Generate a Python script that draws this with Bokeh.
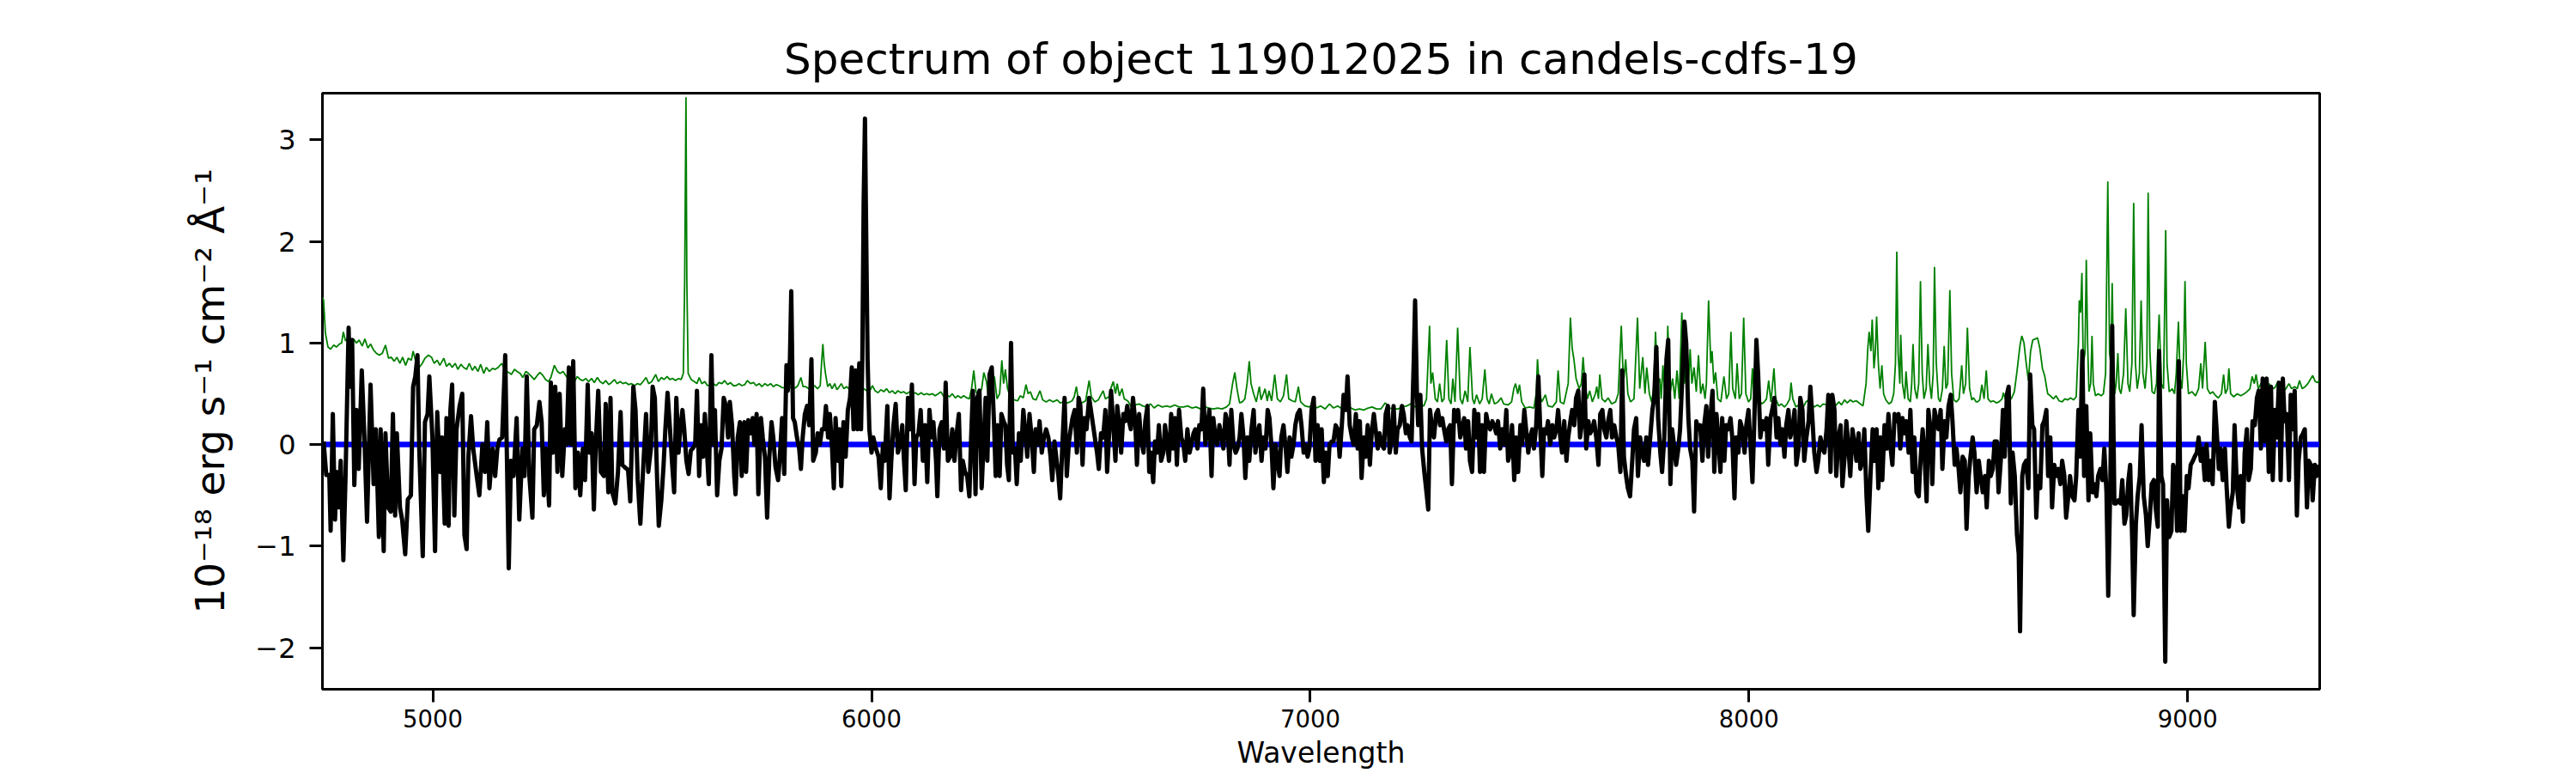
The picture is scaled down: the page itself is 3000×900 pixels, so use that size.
from bokeh.plotting import figure
from bokeh.models import Range1d, FixedTicker, CustomJSTickFormatter, ColumnDataSource
from bokeh.embed import file_html
from bokeh.resources import INLINE

TITLE = "Spectrum of object 119012025 in candels-cdfs-19"
X_LABEL = "Wavelength"
Y_LABEL = "10\u207b\u00b9\u2078 erg s\u207b\u00b9 cm\u207b\u00b2 \u00c5\u207b\u00b9"
X_TICKS = [5000, 6000, 7000, 8000, 9000]
Y_TICKS = [-2, -1, 0, 1, 2, 3]

flux_a = [(4751,0.03),(4757,-0.3),(4764,-0.3),(4767,-0.85),(4772,0.3),(4777,-0.74),(4781,-0.27),(4785,-0.62),(4790,-0.16),(4796,-1.14),(4801,-0.31),(4808,1.15),(4811,0.57),(4816,1.03),(4821,-0.4),(4826,0.34),(4831,-0.24),(4838,0.73),(4844,0.07),(4850,-0.76),(4858,0.59),(4865,-0.39),(4870,0.15),(4877,-0.91),(4881,0.15),(4888,-1.05),(4892,0.11),(4898,-0.62),(4904,-0.66),(4909,0.3),(4914,-0.7),(4918,0.11),(4925,-0.62),(4930,-0.74),(4937,-1.08),(4943,-0.54),(4950,-0.5),(4955,0.57),(4960,0.67),(4965,0.88),(4969,-0.04),(4977,-1.1),(4982,0.22),(4988,0.3),(4992,0.67),(4999,0.07),(5005,-1.05),(5010,0.32),(5016,-0.27),(5021,0.07),(5027,-0.78),(5031,0.26),(5036,-0.8),(5040,0.34),(5044,0.59),(5049,-0.7),(5054,0.15),(5061,0.38),(5067,0.5),(5072,-0.89),(5077,-1.03),(5081,-0.12),(5087,0.28),(5092,-0.04),(5100,-0.31),(5106,-0.5),(5113,0.0),(5119,-0.27),(5124,0.22),(5129,-0.43),(5136,-0.04),(5142,-0.31),(5147,-0.04),(5152,0.05),(5158,0.07),(5165,0.88),(5173,-1.22),(5178,-0.16),(5184,-0.31),(5191,0.26),(5197,-0.74),(5204,-0.04),(5209,-0.31),(5214,0.67),(5220,-0.31),(5227,-0.72),(5231,0.15),(5237,0.19),(5243,0.42),(5248,0.22),(5253,-0.5),(5258,-0.04),(5265,-0.6),(5269,0.61),(5274,-0.08),(5279,0.57),(5284,-0.27),(5289,0.5),(5295,-0.31),(5301,0.15),(5305,0.0),(5310,0.76),(5315,0.0),(5320,0.82),(5325,-0.43),(5331,-0.08),(5336,-0.5),(5342,-0.04),(5347,-0.35),(5353,0.59),(5357,-0.08),(5362,0.11),(5367,-0.64),(5372,0.07),(5377,0.53),(5383,-0.27),(5390,-0.31),(5394,0.4),(5400,-0.47),(5405,0.46),(5409,-0.47),(5416,-0.58),(5422,-0.27),(5428,0.32),(5432,-0.2),(5439,-0.23),(5445,-0.25),(5450,-0.56),(5457,0.57),(5462,0.34),(5467,-0.35),(5473,-0.78),(5479,-0.27),(5486,0.3),(5491,-0.27),(5497,-0.04)]
flux_b = [(5501,0.57),(5506,0.46),(5511,-0.31),(5515,-0.8),(5521,-0.54),(5526,-0.2),(5530,0.15),(5535,0.51),(5540,0.19),(5545,-0.16),(5550,-0.47),(5555,0.46),(5560,-0.08),(5564,0.15),(5569,0.34),(5573,0.15),(5578,-0.16),(5583,-0.29),(5588,-0.06),(5592,-0.04),(5598,0.0),(5602,0.53),(5607,-0.31),(5612,0.19),(5616,-0.12),(5620,0.3),(5625,-0.08),(5629,-0.39),(5635,0.88),(5639,0.0),(5643,0.34),(5648,-0.5),(5653,-0.16),(5658,-0.04),(5663,0.46),(5668,0.38),(5673,0.07),(5677,0.42),(5682,0.19),(5687,-0.31),(5690,-0.49),(5695,0.07),(5700,0.22),(5704,-0.31),(5710,0.22),(5714,-0.27),(5719,0.24),(5724,0.11),(5729,0.26),(5733,0.0),(5738,0.3),(5742,-0.49),(5748,0.26),(5752,0.07),(5757,-0.12),(5762,-0.72),(5767,-0.12),(5772,0.22),(5776,0.07),(5781,-0.22),(5787,-0.35),(5791,-0.12),(5796,0.26),(5801,-0.29),(5806,0.78),(5809,0.53),(5814,0.84),(5817,1.51),(5821,0.26),(5825,0.22),(5830,0.07),(5835,-0.04),(5839,-0.24),(5843,0.07),(5848,0.3),(5853,0.38),(5858,0.19),(5863,0.84),(5867,-0.16),(5873,-0.08),(5877,0.11),(5882,0.0),(5887,0.15),(5892,0.15),(5896,0.38),(5901,0.07),(5905,0.3),(5910,-0.04),(5914,-0.43),(5918,0.26),(5923,-0.16),(5927,0.15),(5931,-0.41),(5936,0.22),(5941,-0.12),(5946,0.34),(5951,0.46),(5955,0.76),(5959,0.15),(5964,0.73),(5968,0.15),(5972,0.8),(5976,0.15),(5979,0.84),(5982,2.38),(5985,3.21),(5987,2.38),(5991,0.84),(5995,0.15),(6000,-0.08),(6004,0.07),(6010,-0.04),(6016,-0.12),(6021,-0.43),(6026,0.0),(6030,-0.16),(6036,0.38),(6041,-0.53),(6045,-0.16),(6050,0.19),(6055,0.4),(6060,-0.08),(6065,0.0),(6070,0.19),(6074,-0.16),(6078,-0.45),(6083,0.46),(6088,0.15),(6092,0.59),(6098,-0.39),(6102,0.07),(6107,0.11),(6112,0.34),(6117,-0.16),(6122,0.19),(6127,-0.37),(6132,0.34),(6137,0.07),(6141,0.22),(6147,-0.16),(6150,-0.51),(6155,0.15),(6160,0.22),(6165,-0.04),(6169,0.61),(6174,-0.16),(6179,-0.12),(6184,0.15),(6189,-0.16),(6193,0.07),(6199,0.3),(6204,-0.45),(6208,-0.16),(6213,-0.27),(6218,-0.31),(6223,-0.51),(6227,0.07),(6231,0.53),(6237,-0.49),(6241,0.46),(6246,0.53),(6251,-0.43)]
flux_c = [(6260,0.46),(6264,-0.16),(6269,0.69),(6274,0.76),(6279,0.23),(6283,-0.31),(6287,0.19),(6292,-0.31),(6296,0.3),(6301,0.23),(6305,0.19),(6309,-0.2),(6313,-0.35),(6318,1.0),(6322,-0.08),(6327,-0.04),(6331,-0.39),(6336,0.11),(6340,-0.16),(6346,0.34),(6350,0.15),(6355,-0.12),(6360,0.3),(6365,0.07),(6370,-0.27),(6374,0.15),(6379,0.0),(6383,0.23),(6388,-0.08),(6393,0.07),(6398,0.15),(6403,0.07),(6408,-0.12),(6412,-0.35),(6417,0.03),(6422,-0.16),(6426,-0.31),(6430,-0.53),(6435,0.0),(6440,0.46),(6445,-0.31),(6450,0.03),(6454,0.15),(6458,0.26),(6463,0.34),(6468,-0.08),(6472,0.46),(6476,0.38),(6481,-0.2),(6485,0.26),(6490,0.15),(6496,0.46),(6500,0.34),(6505,0.19),(6509,0.07),(6514,-0.08),(6518,-0.24),(6523,0.11),(6528,0.07),(6533,0.34),(6537,-0.27),(6542,0.15),(6546,0.53),(6551,0.19),(6556,-0.16),(6560,0.38),(6564,0.23),(6569,-0.08),(6574,0.3),(6578,0.23),(6583,0.38),(6587,0.23),(6591,0.15),(6596,0.46),(6601,0.23),(6605,-0.2),(6610,0.3),(6614,0.07),(6620,-0.08),(6624,0.23),(6629,0.38),(6633,-0.27),(6637,-0.08),(6642,-0.37),(6646,0.03),(6651,-0.08),(6655,0.19),(6660,-0.16),(6665,-0.08),(6669,0.19),(6674,0.0),(6678,-0.16),(6683,0.3),(6687,-0.04),(6692,0.26),(6696,-0.2),(6701,0.34),(6706,0.07),(6711,0.0),(6715,-0.16),(6720,0.15),(6725,-0.08),(6729,0.0),(6734,0.11),(6738,0.15),(6743,-0.04),(6747,0.19),(6752,0.15),(6756,0.55),(6761,0.0),(6766,0.19),(6770,0.34),(6775,-0.31),(6779,0.26),(6784,0.07),(6788,0.0),(6793,0.19),(6798,0.07),(6802,-0.04),(6807,0.3),(6811,0.23),(6816,-0.2),(6820,0.34),(6825,0.0),(6830,-0.08),(6834,-0.04),(6839,0.07),(6843,0.3),(6848,0.07),(6852,-0.33),(6857,0.07),(6861,-0.16),(6866,0.15),(6871,0.34),(6875,-0.08),(6880,0.11),(6884,0.19),(6889,-0.16),(6893,0.07),(6898,-0.04),(6903,0.34),(6907,0.26),(6912,-0.04),(6916,-0.43),(6921,0.0),(6925,-0.16),(6930,-0.31),(6934,0.07),(6939,0.19),(6944,-0.04),(6948,-0.27),(6953,0.07),(6957,-0.12),(6962,0.0),(6966,0.19),(6971,0.3),(6976,0.34),(6980,0.19),(6985,-0.08),(6989,0.0),(6994,-0.12),(6998,-0.04),(7003,0.34),(7008,0.46),(7012,-0.16)]
flux_d = [(7017,0.19),(7021,-0.16),(7026,0.15),(7031,-0.37),(7035,-0.08),(7040,-0.31),(7044,0.0),(7049,0.03),(7053,0.03),(7058,0.19),(7063,0.15),(7067,-0.12),(7072,0.19),(7076,0.49),(7081,0.34),(7085,0.67),(7090,0.19),(7095,0.07),(7099,0.0),(7104,0.3),(7108,-0.04),(7113,0.23),(7117,-0.33),(7122,0.07),(7126,-0.12),(7131,0.19),(7136,-0.2),(7140,0.11),(7145,0.3),(7149,0.15),(7154,-0.04),(7158,0.11),(7163,0.0),(7168,-0.04),(7172,0.3),(7177,0.38),(7181,-0.08),(7186,0.07),(7190,0.38),(7195,-0.08),(7199,0.15),(7204,0.19),(7209,0.38),(7213,0.3),(7218,0.11),(7222,0.19),(7227,0.07),(7231,0.03),(7236,0.84),(7239,1.42),(7243,0.53),(7246,0.19),(7251,0.49),(7255,-0.04),(7260,-0.27),(7265,-0.47),(7269,-0.64),(7273,0.34),(7278,0.15),(7282,0.07),(7287,0.3),(7291,0.34),(7296,0.19),(7301,0.26),(7305,0.15),(7310,0.03),(7314,0.15),(7319,0.19),(7323,-0.39),(7328,0.34),(7333,0.23),(7337,0.34),(7342,0.07),(7346,0.15),(7351,0.26),(7355,-0.04),(7360,0.23),(7364,-0.16),(7369,-0.27),(7374,0.34),(7378,0.07),(7383,0.3),(7387,-0.27),(7392,0.19),(7396,-0.27),(7401,0.3),(7406,0.19),(7410,0.15),(7415,0.23),(7419,0.19),(7424,0.11),(7428,0.23),(7433,-0.04),(7437,0.15),(7442,0.0),(7447,0.34),(7451,-0.16),(7456,-0.08),(7460,0.19),(7465,-0.35),(7469,0.07),(7474,-0.27),(7479,0.19),(7483,0.0),(7488,0.34),(7492,0.15),(7497,-0.08),(7501,0.07),(7506,0.15),(7510,-0.04),(7515,0.19),(7520,0.67),(7524,0.19),(7529,-0.31),(7533,0.15),(7538,0.11),(7542,0.23),(7547,0.0),(7552,0.19),(7556,0.07),(7561,0.15),(7565,0.34),(7570,0.07),(7574,-0.08),(7579,0.23),(7584,-0.16),(7588,0.07),(7593,0.23),(7597,0.34),(7602,0.19),(7606,0.46),(7611,0.53),(7615,0.07),(7620,0.23),(7625,0.69),(7629,-0.04),(7634,0.23),(7638,0.11),(7643,0.15),(7647,0.23),(7652,0.07),(7657,-0.2),(7661,0.3),(7666,0.34),(7670,0.15),(7675,0.07),(7679,0.23),(7684,0.34),(7688,0.07),(7693,0.19),(7698,0.07),(7702,0.0),(7707,-0.27),(7711,0.73),(7715,-0.12),(7720,-0.31),(7724,-0.43),(7729,-0.51),(7734,-0.16),(7738,0.15),(7743,0.26),(7747,-0.31),(7752,0.07),(7756,-0.08),(7761,-0.16)]
flux_e = [(7766,0.07),(7770,-0.2),(7775,0.07),(7780,0.34),(7784,0.46),(7789,0.96),(7793,0.26),(7798,-0.08),(7802,-0.27),(7807,0.07),(7812,0.84),(7816,1.03),(7821,-0.39),(7825,0.15),(7830,-0.04),(7834,-0.2),(7839,-0.04),(7843,0.15),(7848,0.65),(7853,1.21),(7857,1.0),(7862,0.26),(7866,-0.04),(7871,-0.16),(7875,-0.66),(7880,0.23),(7884,0.15),(7889,0.19),(7894,-0.16),(7898,0.19),(7903,0.38),(7907,-0.12),(7912,0.26),(7917,0.53),(7921,-0.27),(7926,0.3),(7930,0.07),(7935,-0.27),(7939,0.26),(7944,-0.16),(7948,0.19),(7953,0.15),(7958,0.26),(7962,0.07),(7967,-0.53),(7971,0.07),(7976,-0.08),(7980,0.23),(7985,0.15),(7990,-0.08),(7994,0.19),(7999,0.34),(8003,0.03),(8008,-0.37),(8012,0.19),(8017,1.03),(8021,0.69),(8026,0.07),(8031,0.23),(8035,0.15),(8040,0.26),(8044,-0.2),(8049,0.26),(8053,0.34),(8058,0.46),(8063,0.07),(8067,0.26),(8072,0.0),(8076,0.15),(8081,-0.12),(8085,0.19),(8090,0.34),(8094,0.07),(8099,0.15),(8104,0.34),(8108,-0.2),(8113,-0.04),(8117,0.46),(8122,0.34),(8126,-0.16),(8131,0.07),(8136,0.23),(8140,0.57),(8145,0.23),(8149,-0.08),(8154,-0.27),(8158,-0.16),(8163,0.07),(8168,-0.04),(8172,-0.08),(8177,0.15),(8181,0.49),(8186,-0.27),(8190,0.49),(8195,0.34),(8199,-0.31),(8204,0.07),(8209,0.19),(8213,-0.41),(8218,-0.12),(8222,0.23),(8227,-0.04),(8231,-0.31),(8236,0.15),(8241,0.0),(8245,-0.16),(8250,0.11),(8254,-0.24),(8259,-0.16),(8263,0.15),(8268,-0.51),(8272,-0.85),(8277,-0.31),(8282,0.15),(8286,-0.16),(8291,0.15),(8295,-0.43),(8300,0.07),(8304,-0.35),(8309,0.19),(8314,-0.04),(8318,0.3),(8323,-0.04),(8327,-0.2),(8332,0.3),(8336,0.23),(8341,0.3),(8345,-0.04),(8350,0.26),(8355,0.11),(8359,0.23),(8364,-0.08),(8368,0.34),(8373,-0.27),(8377,0.07),(8382,-0.47),(8387,-0.51),(8391,-0.16),(8396,0.15),(8400,-0.08),(8405,-0.56),(8409,0.34),(8414,0.15),(8418,-0.39),(8423,0.34),(8428,0.23),(8432,0.15),(8437,0.34),(8441,-0.24),(8446,0.23),(8450,0.07),(8455,0.38),(8460,0.49),(8464,0.23),(8469,-0.2),(8473,-0.04),(8478,-0.24),(8482,-0.47),(8487,-0.12),(8492,-0.16),(8496,-0.83),(8501,-0.31),(8505,-0.12),(8510,0.07),(8514,-0.08)]
flux_f = [(8519,-0.47),(8524,-0.16),(8528,-0.31),(8533,-0.47),(8538,-0.31),(8542,-0.62),(8547,-0.16),(8551,-0.31),(8556,-0.24),(8560,0.03),(8565,0.03),(8569,-0.47),(8574,-0.16),(8579,0.34),(8583,-0.12),(8588,0.49),(8592,0.57),(8597,-0.58),(8601,-0.08),(8606,-0.31),(8611,-0.89),(8615,-1.08),(8618,-1.84),(8623,-0.31),(8627,-0.2),(8632,-0.16),(8637,-0.43),(8641,0.69),(8646,0.19),(8650,0.15),(8655,-0.72),(8659,-0.31),(8664,-0.43),(8669,0.19),(8673,0.23),(8678,0.34),(8682,-0.31),(8687,0.07),(8691,-0.62),(8696,-0.2),(8701,-0.31),(8705,-0.24),(8710,-0.39),(8714,-0.16),(8719,-0.31),(8723,-0.72),(8728,-0.51),(8732,-0.31),(8737,-0.51),(8742,-0.55),(8746,-0.31),(8751,0.34),(8755,-0.12),(8760,0.92),(8764,-0.31),(8769,0.38),(8774,-0.55),(8778,0.11),(8783,-0.47),(8787,-0.39),(8792,-0.51),(8796,-0.31),(8801,-0.24),(8806,-0.35),(8810,-0.04),(8815,-0.47),(8819,-1.49),(8824,-0.31),(8828,1.17),(8833,-0.58),(8837,-0.58),(8842,-0.55),(8847,-0.58),(8851,-0.35),(8856,-0.78),(8860,-0.7),(8865,-0.35),(8869,-0.2),(8874,-1.0),(8877,-1.68),(8882,-0.78),(8886,-0.51),(8891,-0.31),(8895,0.19),(8900,-0.51),(8905,-0.7),(8909,-1.0),(8914,-0.7),(8918,-0.39),(8923,-0.35),(8927,-0.62),(8932,-0.81),(8935,0.92),(8940,-0.31),(8944,-0.39),(8949,-2.14),(8953,-0.55),(8958,-0.91),(8963,-0.85),(8967,-0.2),(8972,-0.31),(8976,-0.85),(8980,0.82),(8984,-0.85),(8989,-0.51),(8993,-0.85),(8998,-0.31),(9002,-0.43),(9007,-0.2),(9012,-0.16),(9016,-0.12),(9021,-0.08),(9025,0.07),(9030,-0.16),(9034,-0.04),(9039,-0.35),(9043,0.0),(9048,-0.35),(9053,-0.16),(9057,-0.39),(9062,0.42),(9066,0.15),(9071,-0.24),(9075,-0.04),(9080,-0.35),(9085,-0.04),(9089,-0.43),(9094,-0.81),(9098,-0.62),(9103,-0.47),(9107,0.19),(9112,-0.39),(9117,-0.62),(9121,-0.31),(9126,-0.76),(9130,-0.08),(9135,0.15),(9139,-0.35),(9144,-0.24),(9148,0.23),(9153,0.19),(9158,0.46),(9162,0.53),(9167,-0.04),(9171,0.65),(9176,0.03),(9180,0.65),(9185,-0.27),(9190,0.57),(9194,-0.35),(9199,0.34),(9203,0.07),(9208,0.61),(9212,-0.35),(9217,0.65),(9221,0.23),(9226,0.3),(9231,-0.35),(9235,0.49),(9240,0.15),(9244,0.53),(9249,-0.7),(9253,-0.16),(9258,0.07),(9263,0.11),(9267,0.15),(9272,-0.62),(9276,-0.16),(9281,-0.2),(9285,-0.55),(9290,-0.2),(9294,-0.31),(9300,-0.2)]

# noise / sky spectrum (green)
noise_a = [(4748,1.45),(4751,1.42),(4755,1.1),(4761,0.96),(4767,0.94),(4774,0.98),(4780,0.96),(4787,0.99),(4792,1.0),(4796,1.11),(4801,1.02),(4806,1.05),(4813,1.03),(4819,1.04),(4826,1.0),(4832,1.03),(4839,0.97),(4845,1.04),(4852,0.95),(4858,0.99),(4865,0.93),(4871,0.9),(4878,0.88),(4885,0.9),(4892,0.98),(4899,0.85),(4905,0.86),(4912,0.82),(4918,0.86),(4925,0.8),(4931,0.86),(4938,0.78),(4944,0.85),(4951,0.83),(4955,0.92),(4961,0.82),(4969,0.76),(4976,0.8),(4982,0.85),(4990,0.88),(4997,0.86),(5003,0.8),(5010,0.83),(5016,0.78),(5025,0.85),(5031,0.77),(5038,0.8),(5044,0.76),(5051,0.8),(5057,0.74),(5064,0.79),(5070,0.76),(5077,0.74),(5083,0.8),(5090,0.73),(5096,0.77),(5103,0.72),(5109,0.79),(5116,0.7),(5122,0.76),(5129,0.72),(5136,0.75),(5142,0.74),(5149,0.76),(5157,0.8),(5165,0.72),(5173,0.71),(5179,0.69),(5186,0.74),(5192,0.72),(5199,0.7),(5205,0.66),(5212,0.72),(5218,0.7),(5225,0.67),(5231,0.64),(5238,0.68),(5244,0.71),(5251,0.68),(5257,0.64),(5264,0.62),(5269,0.66),(5277,0.78),(5284,0.72),(5290,0.7),(5297,0.72),(5303,0.68),(5310,0.64),(5316,0.65),(5323,0.62),(5329,0.67),(5336,0.64),(5342,0.63),(5349,0.65),(5355,0.62),(5362,0.65),(5368,0.61),(5375,0.66),(5381,0.62),(5388,0.6),(5394,0.63),(5401,0.59),(5407,0.61),(5414,0.64),(5420,0.6),(5427,0.62),(5433,0.6),(5440,0.61),(5446,0.59),(5453,0.6),(5460,0.58),(5466,0.6),(5473,0.59),(5479,0.62),(5486,0.66),(5492,0.6),(5499,0.62)]
noise_b = [(5508,0.69),(5514,0.62),(5521,0.66),(5527,0.64),(5534,0.67),(5540,0.64),(5547,0.65),(5553,0.63),(5560,0.65),(5566,0.64),(5571,0.7),(5574,1.6),(5577,3.42),(5579,1.6),(5582,0.7),(5589,0.64),(5596,0.62),(5602,0.6),(5607,0.66),(5613,0.6),(5620,0.62),(5626,0.58),(5633,0.59),(5639,0.6),(5646,0.58),(5652,0.61),(5659,0.6),(5665,0.63),(5672,0.59),(5678,0.61),(5685,0.58),(5691,0.58),(5698,0.6),(5704,0.58),(5711,0.59),(5717,0.63),(5724,0.6),(5731,0.61),(5737,0.58),(5744,0.6),(5750,0.57),(5757,0.6),(5763,0.58),(5770,0.6),(5776,0.57),(5783,0.59),(5789,0.58),(5796,0.56),(5802,0.56),(5809,0.56),(5815,0.56),(5822,0.55),(5827,0.56),(5832,0.58),(5839,0.66),(5844,0.57),(5850,0.57),(5857,0.55),(5863,0.56),(5870,0.58),(5877,0.55),(5883,0.58),(5886,0.8),(5889,0.99),(5892,0.8),(5895,0.7),(5900,0.57),(5905,0.6),(5910,0.55),(5916,0.6),(5921,0.54),(5925,0.56),(5931,0.6),(5937,0.55),(5943,0.57),(5950,0.54),(5956,0.56),(5963,0.53),(5969,0.55),(5976,0.54),(5982,0.55),(5989,0.53),(5995,0.52),(6002,0.58),(6008,0.53),(6015,0.51),(6021,0.54),(6028,0.52),(6034,0.55),(6041,0.51),(6047,0.53),(6054,0.5),(6060,0.53),(6067,0.51),(6073,0.52),(6080,0.5),(6087,0.52),(6093,0.5),(6100,0.51),(6106,0.49),(6113,0.51),(6119,0.49),(6126,0.5),(6132,0.49),(6139,0.5),(6145,0.48),(6152,0.5),(6158,0.52),(6165,0.47),(6171,0.49),(6178,0.47),(6184,0.5),(6191,0.46),(6197,0.48),(6204,0.46),(6210,0.48),(6217,0.46),(6223,0.45),(6228,0.55),(6233,0.73),(6238,0.52),(6244,0.48),(6251,0.55),(6256,0.71)]
noise_c = [(6262,0.62),(6267,0.45),(6274,0.5),(6280,0.67),(6286,0.45),(6292,0.5),(6297,0.83),(6301,0.6),(6305,0.74),(6310,0.55),(6314,0.5),(6320,0.45),(6326,0.44),(6333,0.43),(6339,0.48),(6346,0.46),(6352,0.59),(6357,0.5),(6362,0.52),(6368,0.45),(6375,0.44),(6384,0.53),(6390,0.44),(6398,0.42),(6406,0.44),(6414,0.42),(6423,0.44),(6430,0.41),(6439,0.42),(6447,0.41),(6457,0.43),(6462,0.47),(6467,0.57),(6472,0.42),(6479,0.41),(6488,0.43),(6496,0.63),(6501,0.47),(6509,0.42),(6517,0.44),(6523,0.49),(6528,0.53),(6533,0.45),(6541,0.47),(6546,0.56),(6551,0.62),(6556,0.5),(6560,0.6),(6565,0.48),(6571,0.55),(6576,0.45),(6584,0.43),(6591,0.38),(6600,0.39),(6610,0.4),(6618,0.38),(6627,0.37),(6636,0.4),(6644,0.36),(6653,0.39),(6663,0.37),(6672,0.38),(6681,0.37),(6691,0.39),(6701,0.37),(6711,0.37),(6721,0.38),(6730,0.36),(6740,0.37),(6750,0.35),(6760,0.37),(6769,0.36),(6779,0.35),(6789,0.36),(6799,0.35),(6809,0.37),(6816,0.4),(6823,0.6),(6828,0.71),(6833,0.55),(6839,0.41),(6845,0.42),(6851,0.45),(6856,0.6),(6861,0.82),(6865,0.6),(6871,0.5),(6877,0.42),(6884,0.57),(6888,0.44),(6893,0.5),(6897,0.55),(6902,0.43),(6906,0.53),(6912,0.43),(6919,0.69),(6925,0.45),(6932,0.42),(6939,0.48),(6946,0.69),(6951,0.45),(6959,0.43),(6966,0.42),(6973,0.57),(6978,0.42),(6988,0.38),(6998,0.37),(7008,0.4)]
noise_d = [(7014,0.36),(7024,0.38),(7034,0.35),(7044,0.4),(7053,0.36),(7063,0.38),(7073,0.35),(7083,0.37),(7093,0.36),(7102,0.34),(7112,0.35),(7122,0.34),(7132,0.36),(7141,0.37),(7151,0.35),(7161,0.35),(7171,0.41),(7181,0.36),(7190,0.35),(7200,0.35),(7210,0.37),(7220,0.38),(7229,0.4),(7239,0.37),(7249,0.4),(7259,0.38),(7265,0.45),(7272,1.17),(7275,0.6),(7279,0.71),(7285,0.45),(7290,0.42),(7295,0.6),(7300,0.42),(7305,0.45),(7311,1.03),(7316,0.45),(7321,0.4),(7325,0.65),(7330,0.42),(7336,1.15),(7342,0.45),(7347,0.4),(7353,0.53),(7359,0.42),(7364,0.96),(7370,0.45),(7374,0.4),(7379,0.49),(7386,0.4),(7392,0.45),(7398,0.74),(7403,0.45),(7408,0.4),(7413,0.5),(7420,0.4),(7428,0.42),(7435,0.46),(7441,0.4),(7451,0.39),(7459,0.42),(7464,0.55),(7468,0.6),(7473,0.5),(7477,0.59),(7482,0.42),(7490,0.36),(7500,0.37),(7510,0.36),(7515,0.5),(7518,0.84),(7523,0.5),(7528,0.42),(7536,0.49),(7542,0.38),(7552,0.37),(7561,0.42),(7565,0.73),(7570,0.42),(7578,0.4),(7588,0.6),(7593,1.25),(7597,0.95),(7601,0.84),(7606,0.65),(7613,0.55),(7618,0.6),(7622,0.86),(7627,0.55),(7632,0.45),(7637,0.53),(7643,0.42),(7650,0.5),(7653,0.57),(7657,0.45),(7660,0.69),(7665,0.45),(7672,0.42),(7679,0.46),(7687,0.4),(7696,0.42),(7702,0.5),(7709,1.17),(7714,0.6),(7719,0.84),(7724,0.5),(7730,0.42),(7738,0.45),(7746,1.25),(7751,0.55),(7758,0.86),(7763,0.5),(7767,0.76)]
noise_e = [(7773,0.5),(7778,0.42),(7783,0.55),(7787,1.11),(7792,0.6),(7797,0.65),(7800,0.45),(7804,0.78),(7808,0.5),(7812,0.45),(7815,1.17),(7820,0.5),(7826,0.65),(7831,0.45),(7836,0.73),(7841,0.45),(7847,1.3),(7853,0.6),(7858,0.82),(7862,0.55),(7866,0.94),(7870,0.6),(7875,0.76),(7880,0.52),(7885,0.88),(7890,0.5),(7895,0.6),(7900,0.45),(7903,0.6),(7908,1.42),(7913,0.8),(7916,0.92),(7920,0.6),(7924,0.71),(7929,0.45),(7936,0.42),(7943,0.67),(7949,0.45),(7954,0.5),(7959,1.11),(7963,0.55),(7969,0.45),(7973,0.8),(7978,0.45),(7983,0.5),(7988,1.25),(7993,0.5),(7999,0.42),(8004,0.45),(8008,0.75),(8012,0.45),(8018,0.84),(8022,0.45),(8029,0.4),(8035,0.42),(8040,0.45),(8045,0.63),(8050,0.42),(8053,0.55),(8057,0.75),(8061,0.45),(8068,0.38),(8074,0.4),(8081,0.37),(8087,0.4),(8093,0.45),(8096,0.61),(8100,0.45),(8107,0.37),(8117,0.4),(8123,0.36),(8130,0.42),(8136,0.44),(8143,0.4),(8149,0.37),(8156,0.39),(8162,0.37),(8169,0.4),(8179,0.39),(8188,0.4),(8197,0.38),(8205,0.42),(8211,0.39),(8218,0.44),(8224,0.41),(8231,0.44),(8237,0.42),(8245,0.43),(8254,0.4),(8260,0.38),(8267,0.6),(8271,0.95),(8274,1.11),(8278,0.92),(8281,1.23),(8285,0.75),(8288,0.9),(8291,1.26),(8295,0.8),(8299,0.55),(8303,0.78),(8307,0.5),(8312,0.44),(8319,0.4),(8325,0.42),(8330,0.5),(8334,0.8),(8337,1.9),(8340,0.9),(8344,0.6),(8346,1.08),(8350,0.6),(8355,0.45),(8358,0.72),(8363,0.45),(8368,0.42),(8371,0.6),(8374,0.99),(8378,0.55),(8383,0.45),(8387,0.6),(8391,1.61),(8395,0.7),(8399,0.45),(8404,0.55),(8408,0.99),(8412,0.6),(8416,0.45),(8420,0.7),(8423,1.75),(8427,0.8),(8432,0.45),(8436,0.42),(8441,0.55),(8445,0.97),(8449,0.55),(8453,0.6),(8458,1.52),(8462,0.7),(8467,0.44),(8473,0.42),(8479,0.45),(8482,0.6),(8485,0.78),(8489,0.5),(8494,0.6),(8498,1.15),(8503,0.55),(8508,0.44),(8512,0.46),(8518,0.42)]
noise_f = [(8521,0.42),(8526,0.44),(8531,0.59),(8536,0.45),(8541,0.73),(8545,0.45),(8551,0.42),(8557,0.43),(8564,0.41),(8570,0.42),(8577,0.45),(8580,0.51),(8585,0.44),(8592,0.46),(8598,0.45),(8605,0.52),(8611,0.72),(8618,0.98),(8622,1.07),(8627,1.0),(8632,0.8),(8637,0.63),(8642,0.92),(8647,1.03),(8653,1.04),(8658,1.05),(8663,0.95),(8669,0.75),(8674,0.68),(8681,0.5),(8687,0.48),(8694,0.45),(8700,0.48),(8707,0.43),(8714,0.42),(8720,0.45),(8727,0.44),(8733,0.46),(8740,0.44),(8746,0.47),(8751,1.0),(8753,1.42),(8756,1.3),(8759,1.69),(8762,0.8),(8766,0.9),(8769,1.82),(8772,1.0),(8775,0.52),(8779,0.6),(8782,1.07),(8785,0.6),(8790,0.48),(8796,0.5),(8803,0.48),(8808,0.5),(8813,0.7),(8818,2.59),(8822,0.9),(8825,0.8),(8828,1.59),(8831,0.8),(8834,0.5),(8837,0.6),(8841,0.9),(8844,0.55),(8848,0.5),(8854,0.7),(8859,1.34),(8864,0.6),(8868,0.52),(8873,0.8),(8877,2.38),(8881,0.8),(8885,0.55),(8890,0.7),(8894,1.42),(8898,0.7),(8903,0.55),(8907,0.8),(8910,2.48),(8914,0.9),(8919,0.52),(8924,0.5),(8929,0.6),(8935,1.28),(8940,0.6),(8945,0.55),(8950,2.11),(8953,0.8),(8958,0.52),(8965,0.55),(8970,0.5),(8974,0.7),(8979,1.21),(8983,0.65),(8987,0.55),(8991,0.9),(8994,1.61),(8997,0.8),(9002,0.5),(9010,0.52),(9018,0.48),(9025,0.55),(9030,0.8),(9034,0.55),(9040,1.01),(9045,0.55),(9051,0.5),(9057,0.52),(9064,0.48),(9070,0.46),(9077,0.5),(9082,0.69),(9086,0.5),(9091,0.55),(9094,0.75),(9098,0.5),(9105,0.47),(9113,0.5),(9121,0.48),(9129,0.5),(9135,0.52),(9142,0.55),(9147,0.67),(9152,0.6),(9156,0.69),(9161,0.55),(9167,0.6),(9173,0.6),(9180,0.55),(9186,0.6),(9193,0.55),(9199,0.56),(9206,0.62),(9211,0.58),(9217,0.52),(9224,0.55),(9231,0.6),(9237,0.55),(9244,0.57),(9250,0.55),(9255,0.63),(9261,0.55),(9268,0.57),(9274,0.6),(9281,0.65),(9285,0.68),(9291,0.62),(9296,0.61),(9300,0.63)]

zero_wave = [4748, 9300]
zero_flux = [0.0, 0.0]

flux_pts = flux_a + flux_b + flux_c + flux_d + flux_e + flux_f
noise_pts = noise_a + noise_b + noise_c + noise_d + noise_e + noise_f

flux_src = ColumnDataSource(dict(w=[p_[0] for p_ in flux_pts], f=[p_[1] for p_ in flux_pts]))
noise_src = ColumnDataSource(dict(w=[p_[0] for p_ in noise_pts], f=[p_[1] for p_ in noise_pts]))
zero_src = ColumnDataSource(dict(w=zero_wave, f=zero_flux))

FONT = "DejaVu Sans"

p = figure(width=3000, height=900, output_backend="svg", toolbar_location=None,
           x_range=Range1d(4748.3, 9301), y_range=Range1d(-2.41, 3.46),
           min_border_left=375, min_border_right=299, min_border_top=108, min_border_bottom=98,
           title=TITLE)
p.background_fill_color = "white"
p.border_fill_color = "white"
p.grid.visible = False
p.outline_line_color = "black"
p.outline_line_width = 3
p.outline_line_alpha = 1.0

p.title.align = "center"
p.title.text_font = FONT
p.title.text_font_size = "50px"
p.title.text_font_style = "normal"
p.title.text_color = "black"
p.title.standoff = 21

for ax in (p.xaxis[0], p.yaxis[0]):
    ax.axis_line_color = None
    ax.major_tick_out = 15
    ax.major_tick_in = 0
    ax.major_tick_line_width = 3
    ax.major_tick_line_color = "black"
    ax.minor_tick_line_color = None
    ax.major_label_text_font = FONT
    ax.major_label_text_color = "black"
    ax.axis_label_text_font = FONT
    ax.axis_label_text_font_style = "normal"
    ax.axis_label_text_color = "black"

p.xaxis.ticker = FixedTicker(ticks=X_TICKS)
p.yaxis.ticker = FixedTicker(ticks=Y_TICKS)
p.xaxis.major_label_text_font_size = "27.5px"
p.yaxis.major_label_text_font_size = "32px"
p.xaxis.major_label_standoff = 8
p.yaxis.major_label_standoff = 16
p.yaxis.formatter = CustomJSTickFormatter(code="return tick < 0 ? '\u2212' + Math.abs(tick) : String(tick);")
p.xaxis.axis_label = X_LABEL
p.yaxis.axis_label = Y_LABEL
p.xaxis.axis_label_text_font_size = "33px"
p.yaxis.axis_label_text_font_size = "47px"
p.xaxis.axis_label_standoff = 7
p.yaxis.axis_label_standoff = 22

p.line("w", "f", source=noise_src, line_color="#008000", line_width=1.8)
p.line("w", "f", source=zero_src, line_color="#0000ff", line_width=6.5)
p.line("w", "f", source=flux_src, line_color="black", line_width=5, line_join="round")

with open("out.html", "w", encoding="utf-8") as fh:
    fh.write(file_html(p, INLINE))
